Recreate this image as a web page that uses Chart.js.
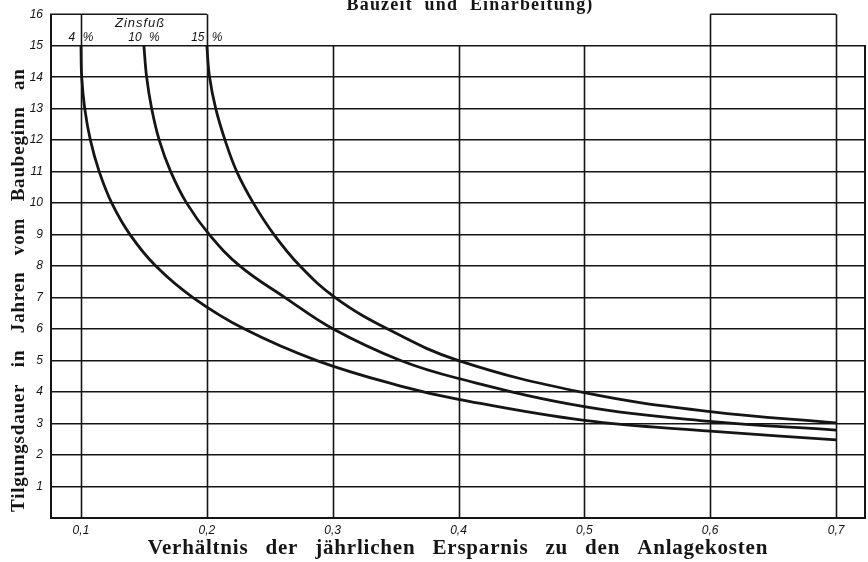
<!DOCTYPE html>
<html>
<head>
<meta charset="utf-8">
<script src="https://cdn.jsdelivr.net/npm/chart.js@4/dist/chart.umd.min.js"></script>
<style>
  html, body { margin: 0; padding: 0; background: #fff; overflow: hidden; }
  canvas { display: block; }
</style>
</head>
<body>
<canvas id="tilgungChart" width="868" height="562"></canvas>
<script>
// Tick values and labels
const xTicks = [0.1, 0.2, 0.3, 0.4, 0.5, 0.6, 0.7];
const xTickLabels = ['0,1', '0,2', '0,3', '0,4', '0,5', '0,6', '0,7'];
const yTicks = [1, 2, 3, 4, 5, 6, 7, 8, 9, 10, 11, 12, 13, 14, 15, 16];

// Zinsfuß curves
const seriesLabels = ['4 %', '10 %', '15 %'];
const ratio4 = [0.100, 0.1006, 0.103, 0.1075, 0.1145, 0.1245, 0.139, 0.1595, 0.1890, 0.2300, 0.2875, 0.354, 0.400, 0.500, 0.600, 0.700];
const years4 = [15, 14, 13, 12, 11, 10, 9, 8, 7, 6, 5, 4.19, 3.77, 3.10, 2.76, 2.48];
const ratio10 = [0.150, 0.1522, 0.1562, 0.1622, 0.1713, 0.1840, 0.2020, 0.2264, 0.2622, 0.3005, 0.354, 0.400, 0.500, 0.600, 0.700];
const years10 = [15, 14, 13, 12, 11, 10, 9, 8, 7, 6, 5, 4.43, 3.54, 3.07, 2.79];
const ratio15 = [0.200, 0.2022, 0.2071, 0.2145, 0.2238, 0.2370, 0.2534, 0.2741, 0.3020, 0.3438, 0.400, 0.500, 0.600, 0.700];
const years15 = [15, 14, 13, 12, 11, 10, 9, 8, 7, 6, 5.0, 3.98, 3.38, 3.02];

// verticals that run up into the top band (to 16)
const tallLines = [0.1, 0.2, 0.6, 0.7];

const xTitle = 'Verhältnis der jährlichen Ersparnis zu den Anlagekosten';
const yTitle = 'Tilgungsdauer in Jahren vom Baubeginn an';
const caption = 'Bauzeit und Einarbeitung)';

const ink = '#151515';
const serif = '"Liberation Serif", "DejaVu Serif", serif';
const sans = '"Liberation Sans", Arial, sans-serif';

const toPoints = (xs, ys) => xs.map((v, i) => ({ x: v, y: ys[i] }));

const paper = {
    id: 'paper',
    beforeDatasetsDraw(chart) {
        const { ctx, scales: { x, y } } = chart;
        const y0 = y.getPixelForValue(0);
        const y15 = y.getPixelForValue(15);
        const y16 = y.getPixelForValue(16);
        ctx.save();
        ctx.strokeStyle = ink;
        ctx.lineWidth = 1.6;
        ctx.beginPath();
        xTicks.forEach(v => {
            const px = Math.round(x.getPixelForValue(v)) + 0.5;
            ctx.moveTo(px, y0);
            ctx.lineTo(px, tallLines.includes(v) ? y16 : y15);
        });
        // top band outline
        ctx.moveTo(x.left, y16);
        ctx.lineTo(x.getPixelForValue(0.2), y16);
        ctx.moveTo(x.getPixelForValue(0.6), y16);
        ctx.lineTo(x.getPixelForValue(0.7), y16);
        ctx.stroke();
        // frame
        ctx.lineWidth = 2;
        ctx.beginPath();
        ctx.moveTo(x.left + 1, y16);
        ctx.lineTo(x.left + 1, y0);
        ctx.lineTo(x.right - 1, y0);
        ctx.lineTo(x.right - 1, y15);
        ctx.stroke();
        ctx.restore();
    },
    afterDraw(chart) {
        const { ctx, chartArea, scales: { x, y } } = chart;
        ctx.save();
        ctx.fillStyle = ink;
        ctx.textAlign = 'center';
        ctx.textBaseline = 'middle';
        ctx.font = 'italic 13px ' + sans;
        ctx.letterSpacing = '1px';
        ctx.fillText('Zinsfuß', x.getPixelForValue(0.147), y.getPixelForValue(15.7));
        ctx.letterSpacing = '0px';
        ctx.wordSpacing = '4px';
        ctx.font = 'italic 12px ' + sans;
        chart.data.datasets.forEach(ds => {
            const p = ds.data[0];
            ctx.fillText(ds.label, x.getPixelForValue(p.x), y.getPixelForValue(15.25));
        });

        // axis titles, words spaced out like the print
        ctx.letterSpacing = '0.8px';
        ctx.wordSpacing = '11px';
        ctx.font = 'bold 21px ' + serif;
        ctx.fillText(xTitle, (chartArea.left + chartArea.right) / 2, 549);

        ctx.save();
        ctx.translate(19, chartArea.bottom - 6);
        ctx.rotate(-Math.PI / 2);
        ctx.textAlign = 'left';
        ctx.font = 'bold 19px ' + serif;
        ctx.fillText(yTitle, 0, 0);
        ctx.restore();

        // cut-off second line of the figure caption
        ctx.letterSpacing = '1.2px';
        ctx.wordSpacing = '6px';
        ctx.font = 'bold 18px ' + serif;
        ctx.textBaseline = 'alphabetic';
        ctx.fillText(caption, 470, 10);
        ctx.restore();
    }
};

new Chart(document.getElementById('tilgungChart'), {
    type: 'line',
    data: {
        datasets: [
            { label: seriesLabels[0], data: toPoints(ratio4, years4) },
            { label: seriesLabels[1], data: toPoints(ratio10, years10) },
            { label: seriesLabels[2], data: toPoints(ratio15, years15) }
        ]
    },
    options: {
        responsive: false,
        animation: false,
        devicePixelRatio: 1,
        layout: { padding: { top: 0, right: 2, left: 0, bottom: 0 } },
        elements: {
            line: { borderColor: ink, borderWidth: 2.8, tension: 0.4, fill: false },
            point: { radius: 0 }
        },
        plugins: {
            legend: { display: false },
            tooltip: { enabled: false }
        },
        scales: {
            x: {
                type: 'linear',
                min: 0.0754,
                max: 0.7238,
                afterBuildTicks: axis => { axis.ticks = xTicks.map(v => ({ value: v })); },
                afterFit: axis => { axis.height = 44; },
                grid: { display: false, drawTicks: false },
                border: { display: false },
                ticks: {
                    padding: 5,
                    color: ink,
                    font: { family: sans, size: 12, style: 'italic' },
                    callback: v => xTickLabels[xTicks.indexOf(v)]
                }
            },
            y: {
                type: 'linear',
                min: 0,
                max: 16,
                afterBuildTicks: axis => { axis.ticks = yTicks.map(v => ({ value: v })); },
                afterFit: axis => { axis.width = 50; },
                grid: {
                    drawTicks: false,
                    lineWidth: 1.6,
                    color: c => (c.tick && c.tick.value === 16) ? 'rgba(0,0,0,0)' : ink
                },
                border: { display: false },
                ticks: {
                    padding: 7,
                    color: ink,
                    font: { family: sans, size: 12, style: 'italic' }
                }
            }
        }
    },
    plugins: [paper]
});
</script>
</body>
</html>
